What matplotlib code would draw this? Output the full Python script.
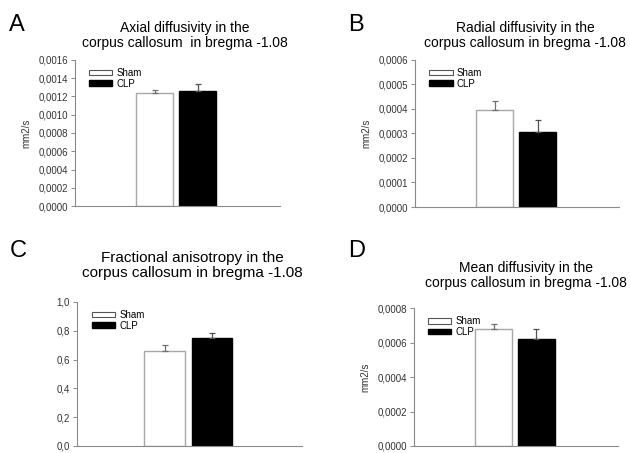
import matplotlib
matplotlib.use("Agg")
import matplotlib.pyplot as plt
from matplotlib.patches import Patch
from matplotlib.ticker import FuncFormatter

plt.rcParams['font.family'] = ['Liberation Sans', 'DejaVu Sans']

groups = ["Sham", "CLP"]

# values: mean and upper error
axial_mean = [0.00124, 0.00126]
axial_err = [0.00003, 0.00007]
radial_mean = [0.000395, 0.000305]
radial_err = [0.000038, 0.00005]
fa_mean = [0.66, 0.75]
fa_err = [0.04, 0.037]
md_mean = [0.00068, 0.000624]
md_err = [0.00003, 0.000055]

panels = [
    dict(letter="A", title="Axial diffusivity in the\ncorpus callosum  in bregma -1.08",
         mean=axial_mean, err=axial_err, ymax=0.0016, step=0.0002, fmt=4, ylabel="mm2/s",
         pos=[0.119, 0.545, 0.325, 0.323], tx=0.294, ty=0.922, tsize=10, lx=0.015, ly=0.97),
    dict(letter="B", title="Radial diffusivity in the\ncorpus callosum in bregma -1.08",
         mean=radial_mean, err=radial_err, ymax=0.0006, step=0.0001, fmt=4, ylabel="mm2/s",
         pos=[0.659, 0.543, 0.324, 0.325], tx=0.834, ty=0.922, tsize=10, lx=0.552, ly=0.97),
    dict(letter="C", title="Fractional anisotropy in the\ncorpus callosum in bregma -1.08",
         mean=fa_mean, err=fa_err, ymax=1.0, step=0.2, fmt=1, ylabel=None,
         pos=[0.122, 0.0155, 0.357, 0.318], tx=0.305, ty=0.414, tsize=11, lx=0.015, ly=0.47),
    dict(letter="D", title="Mean diffusivity in the\ncorpus callosum in bregma -1.08",
         mean=md_mean, err=md_err, ymax=0.0008, step=0.0002, fmt=4, ylabel="mm2/s",
         pos=[0.657, 0.0155, 0.324, 0.304], tx=0.835, ty=0.392, tsize=10, lx=0.552, ly=0.47),
]

fig = plt.figure(figsize=(6.3, 4.53), dpi=100)
grey = "#8a8a8a"
xpos = [0.39, 0.60]
w = 0.18

for p in panels:
    ax = fig.add_axes(p["pos"])
    ax.bar(xpos[0], p["mean"][0], w, color="white", edgecolor="#a8a8a8", linewidth=1)
    ax.bar(xpos[1], p["mean"][1], w, color="black", edgecolor="black", linewidth=1)
    ax.errorbar(xpos[0], p["mean"][0], yerr=[[0], [p["err"][0]]], fmt="none",
                ecolor="#707070", elinewidth=0.9, capsize=2.5, capthick=0.9)
    ax.errorbar(xpos[1], p["mean"][1], yerr=[[0], [p["err"][1]]], fmt="none",
                ecolor="#505050", elinewidth=0.9, capsize=2.5, capthick=0.9)
    ax.set_xlim(0, 1)
    ax.set_ylim(0, p["ymax"])
    n = int(round(p["ymax"] / p["step"]))
    ax.set_yticks([i * p["step"] for i in range(n + 1)])
    d = p["fmt"]
    ax.yaxis.set_major_formatter(FuncFormatter(lambda v, _, d=d: f"{v:.{d}f}".replace(".", ",")))
    ax.set_xticks([])
    for s in ["top", "right"]:
        ax.spines[s].set_visible(False)
    for s in ["left", "bottom"]:
        ax.spines[s].set_color(grey)
        ax.spines[s].set_linewidth(0.8)
    ax.tick_params(axis="y", labelsize=7, length=3, width=0.7, color=grey, pad=2,
                   labelcolor="#333333")
    if p["ylabel"]:
        ax.set_ylabel(p["ylabel"], fontsize=7, color="#333333", labelpad=5)
    handles = [Patch(facecolor="white", edgecolor="#555555", linewidth=0.8),
               Patch(facecolor="black", edgecolor="black")]
    ax.legend(handles, groups, loc="upper left", bbox_to_anchor=(0.05, 0.97), frameon=False,
              fontsize=7, handlelength=2.4, handleheight=0.5, labelspacing=0.05,
              handletextpad=0.4, borderaxespad=0)
    fig.text(p["tx"], p["ty"], p["title"], ha="center", va="center", fontsize=p["tsize"],
             linespacing=1.1)
    fig.text(p["lx"], p["ly"], p["letter"], ha="left", va="top", fontsize=17)

fig.savefig("out.png", dpi=100)
